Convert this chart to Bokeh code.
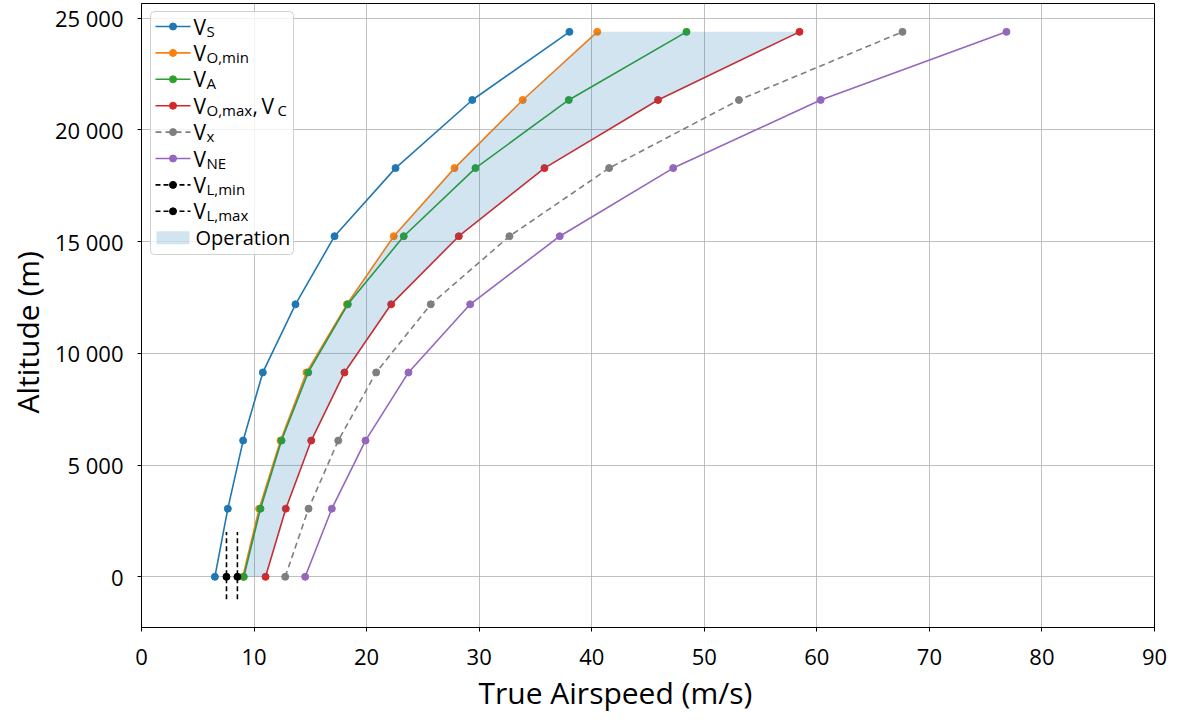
from bokeh.plotting import figure
from bokeh.models import FixedTicker, Range1d, BoxAnnotation, Title
from bokeh.core.properties import value
from bokeh.embed import file_html
from bokeh.resources import INLINE

# ---------------- data ----------------
altitude = [0, 3048, 6096, 9144, 12192, 15240, 18288, 21336, 24384]
v_s = [6.52, 7.67, 9.03, 10.78, 13.68, 17.15, 22.57, 29.39, 38.02]
v_o_min = [9.0, 10.45, 12.35, 14.66, 18.25, 22.41, 27.81, 33.87, 40.49]
v_a = [9.09, 10.57, 12.44, 14.81, 18.33, 23.30, 29.67, 37.96, 48.42]
v_o_max = [11.02, 12.82, 15.08, 18.03, 22.18, 28.19, 35.80, 45.89, 58.46]
v_x = [12.77, 14.84, 17.48, 20.85, 25.70, 32.69, 41.55, 53.08, 67.61]
v_ne = [14.54, 16.91, 19.90, 23.72, 29.20, 37.16, 47.24, 60.34, 76.85]
v_l_min = 7.55
v_l_max = 8.52
v_l_span = [-1000, 2000]
v_l_alt = 0

x_ticks = [0, 10, 20, 30, 40, 50, 60, 70, 80, 90]
y_ticks = [0, 5000, 10000, 15000, 20000, 25000]
y_tick_labels = ["0", "5 000", "10 000", "15 000", "20 000", "25 000"]
x_label = "True Airspeed (m/s)"
y_label = "Altitude (m)"

series = [
    ("S", v_s, "#1f77b4", "solid"),
    ("O,min", v_o_min, "#ff7f0e", "solid"),
    ("A", v_a, "#2ca02c", "solid"),
    ("O,max", v_o_max, "#d62728", "solid"),
    ("x", v_x, "#7f7f7f", "6 4"),
    ("NE", v_ne, "#9467bd", "solid"),
]

# ---------------- layout ----------------
W, H = 1179, 720
FL, FR, FT, FB = 141, 1154, 3, 627
X_RANGE = (0, 90)
Y_RANGE = (-2269, 25653)
FONT = "Open Sans"


def dx(px):
    return X_RANGE[0] + (px - FL) / (FR - FL) * (X_RANGE[1] - X_RANGE[0])


def dy(py):
    return Y_RANGE[1] - (py - FT) / (FB - FT) * (Y_RANGE[1] - Y_RANGE[0])


p = figure(width=W, height=H,
           x_range=Range1d(*X_RANGE), y_range=Range1d(*Y_RANGE),
           output_backend="svg", toolbar_location=None,
           min_border_left=FL, min_border_right=W - FR,
           min_border_top=FT, min_border_bottom=H - FB)

p.outline_line_color = "black"
p.outline_line_width = 1
p.outline_line_alpha = 1

p.xaxis.ticker = FixedTicker(ticks=x_ticks)
p.yaxis.ticker = FixedTicker(ticks=y_ticks)
p.yaxis.major_label_overrides = {t: l for t, l in zip(y_ticks, y_tick_labels)}

for ax in (p.xaxis[0], p.yaxis[0]):
    ax.major_label_text_font = FONT
    ax.major_label_text_font_size = "22px"
    ax.major_label_text_color = "black"
    ax.axis_line_color = "black"
    ax.major_tick_line_color = "black"
    ax.major_tick_out = 4
    ax.major_tick_in = 0
    ax.minor_tick_line_color = None
p.yaxis.major_label_standoff = 14
p.xaxis.major_label_standoff = 17

# axis titles (side titles, offset like the reference)
p.add_layout(Title(text=x_label, align="left", offset=337, standoff=4,
                   text_font=FONT, text_font_size="30px", text_font_style="normal",
                   text_color="black"), "below")
p.add_layout(Title(text=y_label, align="left", offset=214, standoff=4,
                   vertical_align="top",
                   text_font=FONT, text_font_size="30px", text_font_style="normal",
                   text_color="black"), "left")

p.grid.grid_line_color = "#b0b0b0"
p.grid.grid_line_width = 1
p.grid.grid_line_alpha = 0.8

# ---------------- data marks ----------------
for name, vals, color, dash in series:
    p.line(vals, altitude, line_color=color, line_width=1.6, line_dash=dash)
    p.scatter(vals, altitude, size=7, fill_color=color, line_color=color)

for vl in (v_l_min, v_l_max):
    p.line([vl, vl], v_l_span, line_color="black", line_width=1.6, line_dash="5 3")
    p.scatter([vl], [v_l_alt], size=7, fill_color="black", line_color="black")

p.harea(y=altitude, x1=v_o_min, x2=v_o_max, fill_color="#1f77b4", fill_alpha=0.2)

# ---------------- legend ----------------
box = BoxAnnotation(left=dx(150), right=dx(293), top=dy(11), bottom=dy(254),
                    fill_color="white", fill_alpha=0.8,
                    line_color="#cccccc", line_width=1, line_alpha=0.9,
                    border_radius=4, level="underlay")
p.add_layout(box)

legend_rows = [(s[0], s[2], s[3]) for s in series] + [("L,min", "black", "5 3"), ("L,max", "black", "5 3")]
row_c = [26 + 26.4 * i for i in range(len(legend_rows) + 1)]

MB, SB = 0, 4  # baseline offsets (px) of main and subscript text from row centre
main_x, main_y, main_t = [], [], []
sub_x, sub_y, sub_t = [], [], []
for i, (sub, color, dash) in enumerate(legend_rows):
    c = row_c[i]
    p.line([dx(155), dx(190)], [dy(c), dy(c)], line_color=color, line_width=1.6, line_dash=dash)
    p.scatter([dx(172.5)], [dy(c)], size=7, fill_color=color, line_color=color)
    main_x.append(dx(193)); main_y.append(dy(c + MB)); main_t.append("V")
    sub_x.append(dx(206)); sub_y.append(dy(c + SB)); sub_t.append(sub)
    if sub == "O,max":
        main_x += [dx(252), dx(261)]
        main_y += [dy(c + MB), dy(c + MB)]
        main_t += [",", "V"]
        sub_x.append(dx(277)); sub_y.append(dy(c + SB)); sub_t.append("C")

c_op = row_c[len(legend_rows)]
p.quad(left=[dx(156)], right=[dx(189)], top=[dy(c_op - 6.5)], bottom=[dy(c_op + 6.5)],
       fill_color="#1f77b4", fill_alpha=0.2, line_color=None)

p.text(main_x, main_y, text=main_t, text_font=value(FONT), text_font_size="21px",
       text_baseline="alphabetic", text_align="left", text_color="black")
p.text(sub_x, sub_y, text=sub_t, text_font=value(FONT), text_font_size="15px",
       text_baseline="alphabetic", text_align="left", text_color="black")
p.text([dx(195)], [dy(c_op + MB)], text=["Operation"], text_font=value(FONT), text_font_size="20px",
       text_baseline="alphabetic", text_align="left", text_color="black")

open("out.html", "w").write(file_html(p, INLINE))
